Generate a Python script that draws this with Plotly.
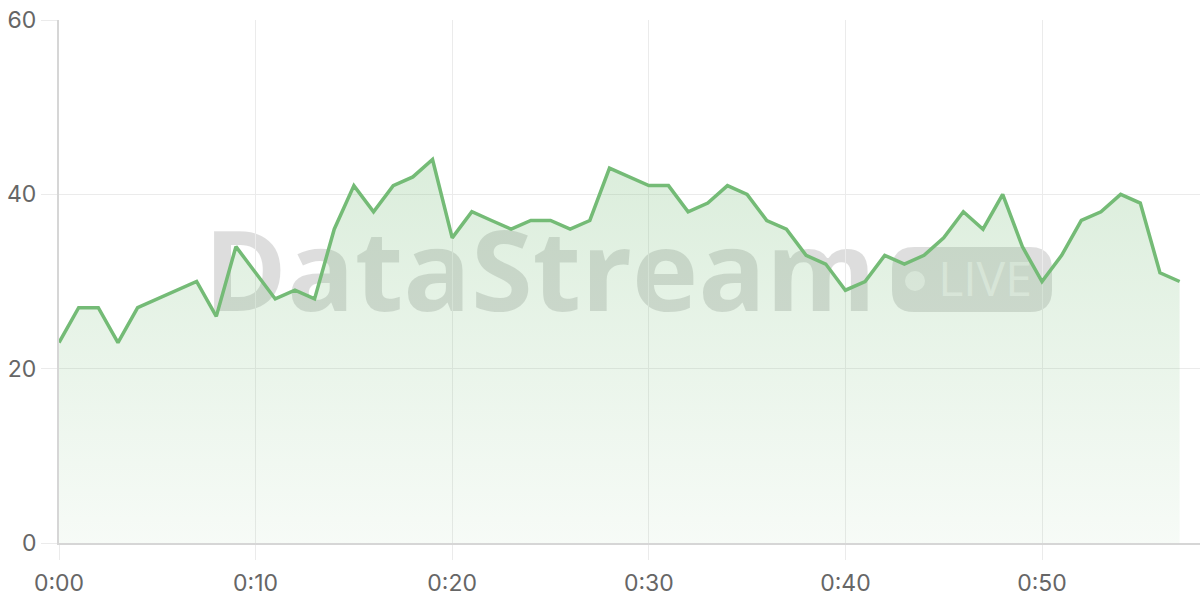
import plotly.graph_objects as go

minutes = list(range(58))
values = [23, 27, 27, 23, 27, 28, 29, 30, 26, 34,
          31, 28, 29, 28, 36, 41, 38, 41, 42, 44,
          35, 38, 37, 36, 37, 37, 36, 37, 43, 42,
          41, 41, 38, 39, 41, 40, 37, 36, 33, 32,
          29, 30, 33, 32, 33, 35, 38, 36, 40, 34,
          30, 33, 37, 38, 40, 39, 31, 30]
tick_vals = [0, 10, 20, 30, 40, 50]
tick_text = ["0:00", "0:10", "0:20", "0:30", "0:40", "0:50"]
y_ticks = [0, 20, 40, 60]

GREEN = "#74bb76"
FONT = "Inter"

fig = go.Figure()
fig.add_trace(go.Scatter(
    x=minutes, y=values, mode="lines",
    line=dict(color=GREEN, width=3.5),
    fill="tozeroy",
    fillgradient=dict(type="vertical",
                      colorscale=[[0, "rgba(116,187,118,0.06)"], [1, "rgba(116,187,118,0.26)"]]),
    hoverinfo="skip", showlegend=False,
))

W, H = 1200, 600
L, R, T, B = 59, 1200, 20, 543
def px(x):
    return (x - L) / (R - L)
def py(y):
    return (B - y) / (B - T)

shapes = []
shapes.append(dict(
    type="rect", xref="paper", yref="paper", layer="between",
    x0=px(200), x1=px(880), y0=py(335), y1=py(215),
    line=dict(width=0), fillcolor="rgba(0,0,0,0)",
    label=dict(text="<b>DataStream</b>", textposition="middle center",
               font=dict(family="Open Sans", size=112, color="rgba(0,0,0,0.135)")),
))
x0, x1, y0, y1 = px(892), px(1052), py(312), py(247)
rx, ry = 22 / (R - L), 22 / (B - T)
path = (f"M {x0+rx},{y0} L {x1-rx},{y0} Q {x1},{y0} {x1},{y0+ry} "
        f"L {x1},{y1-ry} Q {x1},{y1} {x1-rx},{y1} L {x0+rx},{y1} "
        f"Q {x0},{y1} {x0},{y1-ry} L {x0},{y0+ry} Q {x0},{y0} {x0+rx},{y0} Z")
shapes.append(dict(type="path", xref="paper", yref="paper", layer="between",
                   path=path, fillcolor="rgba(0,0,0,0.13)", line=dict(width=0)))
shapes.append(dict(type="circle", xref="paper", yref="paper", layer="between",
                   x0=px(905), x1=px(925), y0=py(291), y1=py(271),
                   fillcolor="rgba(255,255,255,0.55)", line=dict(width=0)))
shapes.append(dict(
    type="rect", xref="paper", yref="paper", layer="between",
    x0=px(930), x1=px(1040), y0=py(306), y1=py(254),
    line=dict(width=0), fillcolor="rgba(0,0,0,0)",
    label=dict(text="LIVE", textposition="middle center",
               font=dict(family="Open Sans", size=48, color="rgba(255,255,255,0.55)")),
))

fig.update_layout(
    width=W, height=H,
    margin=dict(l=L, r=W - R, t=T, b=H - B, autoexpand=False),
    paper_bgcolor="white", plot_bgcolor="white",
    font=dict(family=FONT, color="#666666", size=23),
    shapes=shapes,
    xaxis=dict(range=[0, (R - L) / ((1042 - 59) / 50)], tickvals=tick_vals, ticktext=tick_text,
               automargin=False, ticklabelstandoff=3,
               showgrid=True, gridcolor="#ebebeb", gridwidth=1,
               ticks="outside", ticklen=15, tickcolor="#ebebeb",
               showline=True, linecolor="#d6d6d6", linewidth=2,
               zeroline=False, tickfont=dict(size=23, color="#666666")),
    yaxis=dict(range=[0, 60], tickvals=y_ticks,
               automargin=False, ticklabelstandoff=0,
               showgrid=True, gridcolor="#ebebeb", gridwidth=1,
               ticks="outside", ticklen=16, tickcolor="#ebebeb",
               showline=True, linecolor="#d6d6d6", linewidth=2,
               zeroline=False, tickfont=dict(size=23, color="#666666")),
)

fig.write_html("out.html", config={"displayModeBar": False},
               post_script="document.body.style.margin='0px';")
